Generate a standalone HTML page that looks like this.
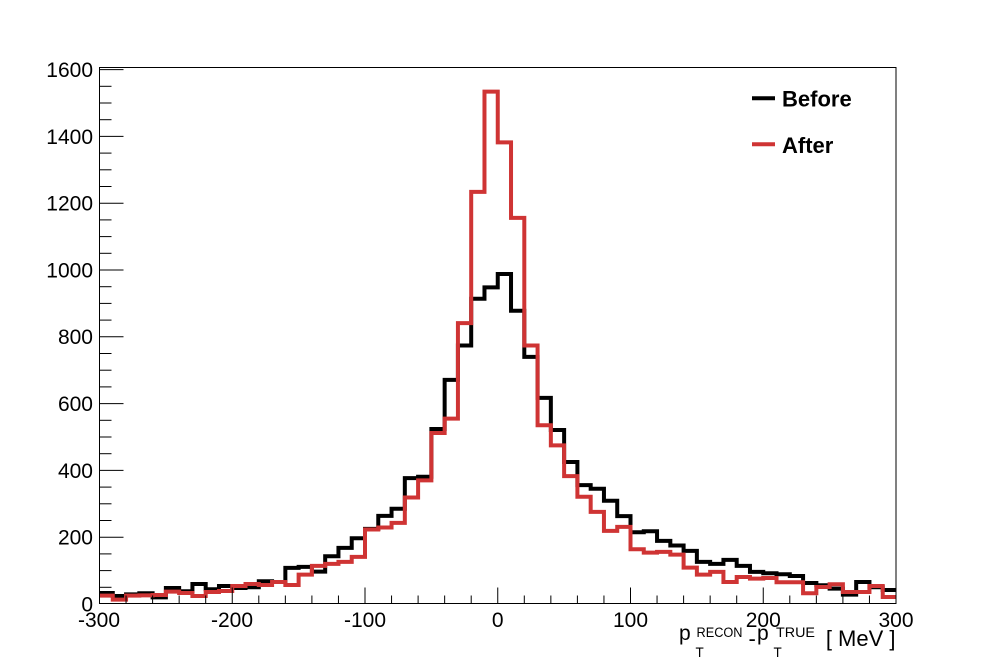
<!DOCTYPE html>
<html>
<head>
<meta charset="utf-8">
<style>
  html,body{margin:0;padding:0;background:#fff;}
  svg{display:block;}
  text{font-family:"Liberation Sans",Arial,sans-serif;fill:#000;}
</style>
</head>
<body>
<svg width="996" height="672" viewBox="0 0 996 672" xmlns="http://www.w3.org/2000/svg">
  <rect x="0" y="0" width="996" height="672" fill="#fff"/>

  <!-- histograms -->
  <g transform="translate(99.5,604) scale(1.3275,-0.334)" fill="none" stroke-linejoin="miter" stroke-linecap="butt">
    <path vector-effect="non-scaling-stroke" stroke="#000" stroke-width="4"
      d="M0,33 H10 V24 H20 V29 H30 V32 H40 V20 H50 V48 H60 V38 H70 V60 H80 V44 H90 V54 H100 V48 H110 V50 H120 V68 H130 V66 H140 V108 H150 V111 H160 V97 H170 V143 H180 V168 H190 V197 H200 V225 H210 V264 H220 V285 H230 V377 H240 V381 H250 V524 H260 V671 H270 V774 H280 V914 H290 V948 H300 V988 H310 V878 H320 V740 H330 V617 H340 V521 H350 V425 H360 V356 H370 V345 H380 V309 H390 V263 H400 V215 H410 V218 H420 V189 H430 V175 H440 V159 H450 V126 H460 V120 H470 V132 H480 V114 H490 V96 H500 V92 H510 V89 H520 V84 H530 V63 H540 V56 H550 V46 H560 V28 H570 V66 H580 V50 H590 V42 H600"/>
    <path vector-effect="non-scaling-stroke" stroke="#cf3434" stroke-width="4"
      d="M0,25 H10 V13 H20 V25 H30 V26 H40 V27 H50 V37 H60 V33 H70 V24 H80 V36 H90 V39 H100 V54 H110 V60 H120 V57 H130 V66 H140 V57 H150 V88 H160 V114 H170 V120 H180 V126 H190 V141 H200 V223 H210 V229 H220 V243 H230 V319 H240 V370 H250 V512 H260 V555 H270 V841 H280 V1234 H290 V1534 H300 V1382 H310 V1156 H320 V774 H330 V535 H340 V475 H350 V383 H360 V321 H370 V276 H380 V219 H390 V231 H400 V164 H410 V154 H420 V156 H430 V148 H440 V109 H450 V88 H460 V96 H470 V66 H480 V81 H490 V76 H500 V78 H510 V65 H520 V65 H530 V32 H540 V51 H550 V59 H560 V36 H570 V36 H580 V54 H590 V21 H600"/>
  </g>

  <!-- frame -->
  <rect x="99.5" y="67.5" width="796.5" height="536" fill="none" stroke="#000" stroke-width="1"/>

  <!-- x ticks -->
  <g stroke="#000" stroke-width="1">
    <line x1="99.5" y1="603.5" x2="99.5" y2="587.5"/>
    <line x1="126.05" y1="603.5" x2="126.05" y2="595.5"/>
    <line x1="152.6" y1="603.5" x2="152.6" y2="595.5"/>
    <line x1="179.15" y1="603.5" x2="179.15" y2="595.5"/>
    <line x1="205.7" y1="603.5" x2="205.7" y2="595.5"/>
    <line x1="232.25" y1="603.5" x2="232.25" y2="587.5"/>
    <line x1="258.8" y1="603.5" x2="258.8" y2="595.5"/>
    <line x1="285.35" y1="603.5" x2="285.35" y2="595.5"/>
    <line x1="311.9" y1="603.5" x2="311.9" y2="595.5"/>
    <line x1="338.45" y1="603.5" x2="338.45" y2="595.5"/>
    <line x1="365" y1="603.5" x2="365" y2="587.5"/>
    <line x1="391.55" y1="603.5" x2="391.55" y2="595.5"/>
    <line x1="418.1" y1="603.5" x2="418.1" y2="595.5"/>
    <line x1="444.65" y1="603.5" x2="444.65" y2="595.5"/>
    <line x1="471.2" y1="603.5" x2="471.2" y2="595.5"/>
    <line x1="497.75" y1="603.5" x2="497.75" y2="587.5"/>
    <line x1="524.3" y1="603.5" x2="524.3" y2="595.5"/>
    <line x1="550.85" y1="603.5" x2="550.85" y2="595.5"/>
    <line x1="577.4" y1="603.5" x2="577.4" y2="595.5"/>
    <line x1="603.95" y1="603.5" x2="603.95" y2="595.5"/>
    <line x1="630.5" y1="603.5" x2="630.5" y2="587.5"/>
    <line x1="657.05" y1="603.5" x2="657.05" y2="595.5"/>
    <line x1="683.6" y1="603.5" x2="683.6" y2="595.5"/>
    <line x1="710.15" y1="603.5" x2="710.15" y2="595.5"/>
    <line x1="736.7" y1="603.5" x2="736.7" y2="595.5"/>
    <line x1="763.25" y1="603.5" x2="763.25" y2="587.5"/>
    <line x1="789.8" y1="603.5" x2="789.8" y2="595.5"/>
    <line x1="816.35" y1="603.5" x2="816.35" y2="595.5"/>
    <line x1="842.9" y1="603.5" x2="842.9" y2="595.5"/>
    <line x1="869.45" y1="603.5" x2="869.45" y2="595.5"/>
  </g>

  <!-- y ticks (every 50, major every 200) -->
  <g stroke="#000" stroke-width="1">
    <line x1="99.5" y1="587.3" x2="111.5" y2="587.3"/>
    <line x1="99.5" y1="570.6" x2="111.5" y2="570.6"/>
    <line x1="99.5" y1="553.9" x2="111.5" y2="553.9"/>
    <line x1="99.5" y1="537.2" x2="123.5" y2="537.2"/>
    <line x1="99.5" y1="520.5" x2="111.5" y2="520.5"/>
    <line x1="99.5" y1="503.8" x2="111.5" y2="503.8"/>
    <line x1="99.5" y1="487.1" x2="111.5" y2="487.1"/>
    <line x1="99.5" y1="470.4" x2="123.5" y2="470.4"/>
    <line x1="99.5" y1="453.7" x2="111.5" y2="453.7"/>
    <line x1="99.5" y1="437" x2="111.5" y2="437"/>
    <line x1="99.5" y1="420.3" x2="111.5" y2="420.3"/>
    <line x1="99.5" y1="403.6" x2="123.5" y2="403.6"/>
    <line x1="99.5" y1="386.9" x2="111.5" y2="386.9"/>
    <line x1="99.5" y1="370.2" x2="111.5" y2="370.2"/>
    <line x1="99.5" y1="353.5" x2="111.5" y2="353.5"/>
    <line x1="99.5" y1="336.8" x2="123.5" y2="336.8"/>
    <line x1="99.5" y1="320.1" x2="111.5" y2="320.1"/>
    <line x1="99.5" y1="303.4" x2="111.5" y2="303.4"/>
    <line x1="99.5" y1="286.7" x2="111.5" y2="286.7"/>
    <line x1="99.5" y1="270" x2="123.5" y2="270"/>
    <line x1="99.5" y1="253.3" x2="111.5" y2="253.3"/>
    <line x1="99.5" y1="236.6" x2="111.5" y2="236.6"/>
    <line x1="99.5" y1="219.9" x2="111.5" y2="219.9"/>
    <line x1="99.5" y1="203.2" x2="123.5" y2="203.2"/>
    <line x1="99.5" y1="186.5" x2="111.5" y2="186.5"/>
    <line x1="99.5" y1="169.8" x2="111.5" y2="169.8"/>
    <line x1="99.5" y1="153.1" x2="111.5" y2="153.1"/>
    <line x1="99.5" y1="136.4" x2="123.5" y2="136.4"/>
    <line x1="99.5" y1="119.7" x2="111.5" y2="119.7"/>
    <line x1="99.5" y1="103" x2="111.5" y2="103"/>
    <line x1="99.5" y1="86.3" x2="111.5" y2="86.3"/>
    <line x1="99.5" y1="69.6" x2="123.5" y2="69.6"/>
  </g>

  <!-- y labels -->
  <g font-size="21" text-anchor="end">
    <text x="93" y="611.5">0</text>
    <text x="93" y="544.5">200</text>
    <text x="93" y="477.8">400</text>
    <text x="93" y="411">600</text>
    <text x="93" y="344.2">800</text>
    <text x="93" y="277.5">1000</text>
    <text x="93" y="210.7">1200</text>
    <text x="93" y="143.8">1400</text>
    <text x="93" y="77">1600</text>
  </g>

  <!-- x labels -->
  <g font-size="21" text-anchor="middle">
    <text x="99" y="627">-300</text>
    <text x="232" y="627">-200</text>
    <text x="365" y="627">-100</text>
    <text x="497.75" y="627">0</text>
    <text x="630.5" y="627">100</text>
    <text x="763.25" y="627">200</text>
    <text x="896" y="627">300</text>
  </g>

  <!-- axis title -->
  <text x="679" y="640" font-size="21">p</text>
  <text x="695.5" y="657" font-size="13.5">T</text>
  <text x="696.5" y="637" font-size="13.5" textLength="46" lengthAdjust="spacingAndGlyphs">RECON</text>
  <text x="748.5" y="646" font-size="22">-</text>
  <text x="757" y="640" font-size="21">p</text>
  <text x="773.5" y="657" font-size="13.5">T</text>
  <text x="776" y="637" font-size="14" textLength="39" lengthAdjust="spacingAndGlyphs">TRUE</text>
  <text x="895.5" y="646" font-size="22" text-anchor="end">[ MeV ]</text>

  <!-- legend -->
  <line x1="752" y1="98.3" x2="775" y2="98.3" stroke="#000" stroke-width="4"/>
  <text x="782" y="106.5" font-size="22" font-weight="bold">Before</text>
  <line x1="752" y1="144.3" x2="775" y2="144.3" stroke="#cf3434" stroke-width="4"/>
  <text x="782" y="153" font-size="22" font-weight="bold">After</text>
</svg>
</body>
</html>
